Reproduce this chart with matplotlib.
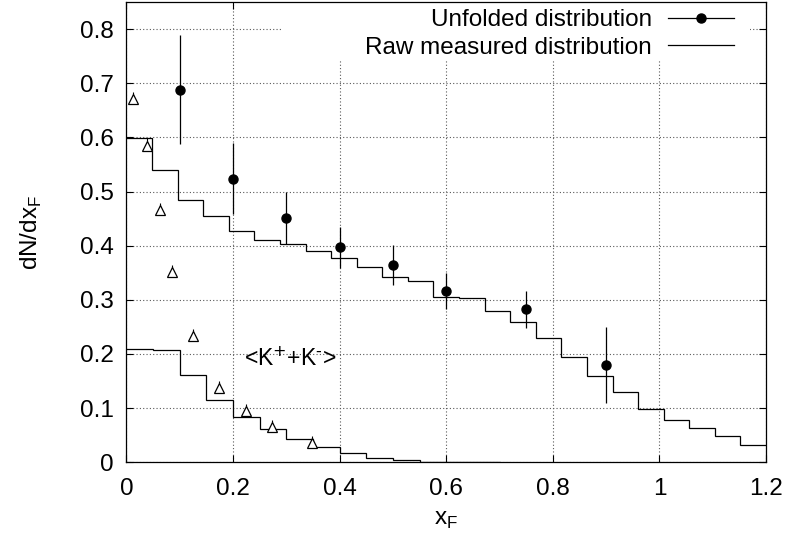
"""x_F distribution: unfolded points, raw measured histograms and <K+ + K-> reference."""
import numpy as np
import matplotlib
matplotlib.use("Agg")
import matplotlib.pyplot as plt
from matplotlib.lines import Line2D
from matplotlib.patches import Rectangle
from matplotlib.ticker import FormatStrFormatter

plt.rcParams["font.family"] = ["Liberation Sans", "DejaVu Sans"]

# raw measured distribution (25 bins, 0 .. 1.2)
raw_edges = np.linspace(0.0, 1.2, 26)
raw_vals = [0.599, 0.539, 0.485, 0.455, 0.427, 0.410, 0.403, 0.390, 0.377, 0.360,
            0.343, 0.334, 0.306, 0.303, 0.280, 0.259, 0.229, 0.194, 0.160, 0.129,
            0.099, 0.079, 0.063, 0.048, 0.031]

# kaon reference histogram (bins of 0.05)
kaon_edges = np.linspace(0.0, 0.7, 15)
kaon_vals = [0.2085, 0.2066, 0.161, 0.1155, 0.084, 0.0615, 0.043, 0.0277,
             0.0166, 0.008, 0.0037, 0.0012, 0.0006, 0.0003]

# <K+ + K-> points (open triangles)
kaon_x = [0.012, 0.038, 0.062, 0.086, 0.124, 0.174, 0.224, 0.274, 0.349]
kaon_y = [0.670, 0.585, 0.4655, 0.352, 0.233, 0.1365, 0.0946, 0.0657, 0.036]

# unfolded distribution with asymmetric errors
unf_x = [0.1, 0.2, 0.3, 0.4, 0.5, 0.6, 0.75, 0.9]
unf_y = [0.687, 0.523, 0.452, 0.397, 0.365, 0.317, 0.283, 0.180]
unf_hi = [0.789, 0.589, 0.499, 0.434, 0.401, 0.350, 0.317, 0.250]
unf_lo = [0.587, 0.459, 0.403, 0.358, 0.328, 0.283, 0.248, 0.110]


def main() -> None:
    fs = 17.5
    fig = plt.figure(figsize=(7.87, 5.41), dpi=100)
    ax = fig.add_axes([0.1607, 0.1455, 0.8126, 0.8508])

    lw = 0.9
    ax.stairs(raw_vals, raw_edges, baseline=None, color="black", lw=lw, zorder=3)
    ax.stairs(kaon_vals, kaon_edges, baseline=None, color="black", lw=lw, zorder=3)

    ky = np.array(kaon_y)
    ax.errorbar(kaon_x, ky, yerr=[np.full_like(ky, 0.002), np.full_like(ky, 0.013)],
                fmt="^", ms=6.5, mfc="white", mec="black", mew=0.9,
                ecolor="black", elinewidth=0.8, capsize=0, zorder=3)

    y = np.array(unf_y)
    yerr = [y - np.array(unf_lo), np.array(unf_hi) - y]
    ax.errorbar(unf_x, y, yerr=yerr, fmt="o", ms=6.5, color="black",
                ecolor="black", elinewidth=lw, capsize=0, zorder=4)

    ax.text(0.307, 0.19, "<K$^{+}$+K$^{\\text{-}}$>", fontsize=16.5,
            ha="center", va="center")

    ax.set_xlim(0, 1.2)
    ax.set_ylim(0, 0.85)
    ax.set_xticks(np.arange(0, 1.21, 0.2))
    ax.set_yticks(np.arange(0, 0.81, 0.1))
    ax.xaxis.set_major_formatter(FormatStrFormatter("%g"))
    ax.yaxis.set_major_formatter(FormatStrFormatter("%g"))
    ax.tick_params(direction="in", top=True, right=True, length=5, width=0.8,
                   labelsize=fs, pad=9)
    ax.tick_params(axis="x", pad=11)
    ax.grid(True, color="0.35", linestyle=(0, (1, 2)), lw=0.8)
    for s in ax.spines.values():
        s.set_linewidth(0.9)

    # key area blanks the grid behind it, as in the original plot
    ax.add_patch(Rectangle((0.245, 0.874), 0.73, 0.126, transform=ax.transAxes,
                           facecolor="white", edgecolor="none", zorder=1.8))

    ax.set_xlabel("x$_\\mathregular{F}$", fontsize=fs, labelpad=7)
    ax.set_ylabel("dN/dx$_\\mathregular{F}$", fontsize=fs, labelpad=26)

    handles = [
        Line2D([], [], color="black", lw=lw, marker="o", ms=6.5),
        Line2D([], [], color="black", lw=lw),
    ]
    ax.legend(handles, ["Unfolded distribution", "Raw measured distribution"],
              loc="upper right", bbox_to_anchor=(0.962, 1.0), markerfirst=False,
              frameon=False, fontsize=fs, handlelength=2.75, handletextpad=0.65,
              labelspacing=0.22, borderpad=0.3, borderaxespad=0.0)

    fig.savefig("out.png", dpi=100)


if __name__ == "__main__":
    main()
